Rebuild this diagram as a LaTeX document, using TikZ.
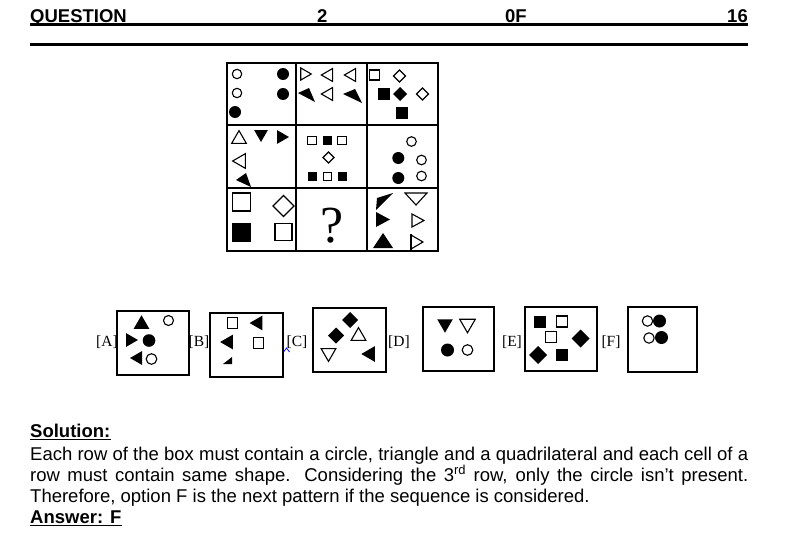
\documentclass[tikz,border=0pt]{standalone}
\usepackage{fontspec}
\setmainfont{Liberation Sans}
\newfontfamily\optfont{Liberation Serif}
\usetikzlibrary{positioning}

\tikzset{
  hollow/.style={draw,line width=1.1pt},
  filled/.style={fill=black},
  gridline/.style={line width=1.4pt},
  optbox/.style={draw,line width=1.3pt,minimum width=72pt,minimum height=64pt,inner sep=0pt},
  optlabel/.style={font=\optfont\fontsize{15.5}{17}\selectfont,inner sep=0pt},
  bodytext/.style={anchor=base west,inner sep=0pt,font=\fontsize{18.5}{21}\selectfont},
  boldtext/.style={anchor=base west,inner sep=0pt,font=\bfseries\fontsize{18.5}{21}\selectfont},
  rule/.style={line width=#1},
}

% shapes centred on their bounding box: style, x, y, (angle,) size
\newcommand{\mktri}[5]{\path[#1,shift={(#2,#3)},shift={({#4+180}:{#5/4})}]
  (#4:#5) -- ({#4+120}:#5) -- ({#4+240}:#5) -- cycle;}
\newcommand{\mkcirc}[4]{\path[#1] (#2,#3) circle (#4);}
\newcommand{\mksq}[4]{\path[#1,shift={(#2,#3)}] (-#4,-#4) rectangle (#4,#4);}
\newcommand{\mkdiam}[4]{\path[#1,shift={(#2,#3)}] (#4,0) -- (0,#4) -- (-#4,0) -- (0,-#4) -- cycle;}

\begin{document}
\begin{tikzpicture}[x=1pt,y=-1pt]
  \useasboundingbox (0,0) rectangle (803,546);
  \fill[white] (0,0) rectangle (803,546);

  % header
  \node[boldtext] (qhead) at (30,22) {QUESTION};
  \node[boldtext] (qnum) at (317,22) {2};
  \node[boldtext] (qof) at (505,22) {0F};
  \node[boldtext,anchor=base east] (qtotal) at (748,22) {16};
  \draw[rule=2.5pt] ([yshift=-2.5pt]qhead.base west) -- ([yshift=-2.5pt]qtotal.base east);
  \draw[rule=3.5pt] (30,44.5) -- (748,44.5);

  % puzzle grid
  \draw[gridline] (227,63) rectangle (438,251);
  \draw[gridline] (296,63) -- (296,251);
  \draw[gridline] (367,63) -- (367,251);
  \draw[gridline] (227,125) -- (438,125);
  \draw[gridline] (227,188) -- (438,188);

  % row 1
  \mkcirc{hollow}{237}{74}{4.7}
  \mkcirc{hollow}{237}{93}{4.7}
  \mkcirc{filled}{235}{112}{6}
  \mkcirc{filled}{283}{74}{6}
  \mkcirc{filled}{283}{94}{6}
  \mktri{hollow}{306}{74}{0}{7}
  \mktri{hollow}{327}{75}{180}{7.5}
  \mktri{hollow}{350}{75}{180}{7.5}
  \mktri{hollow}{327}{94}{180}{7.5}
  \fill (298,93) -- (309,88) -- (315,102) -- cycle;
  \fill (343,94) -- (355,89) -- (362,103) -- cycle;
  \mksq{hollow}{374.5}{75}{5}
  \mkdiam{hollow}{399.5}{76}{6}
  \mksq{filled}{383.5}{94}{6}
  \mkdiam{filled}{400}{94}{7}
  \mkdiam{hollow}{422.5}{94}{6}
  \mksq{filled}{402}{112.5}{6}

  % row 2
  \mktri{hollow}{239}{137}{-90}{8.5}
  \mktri{filled}{261}{136}{90}{8}
  \mktri{filled}{283}{137}{0}{8}
  \mktri{hollow}{239}{161}{180}{8.5}
  \fill (236,180) -- (246,173) -- (251,187) -- cycle;
  \mksq{hollow}{312}{140.7}{4.2}
  \mksq{filled}{327.5}{140.7}{4.5}
  \mksq{hollow}{342}{140.7}{4.2}
  \mkdiam{hollow}{328.5}{157.5}{5.5}
  \mksq{filled}{312}{176.5}{4.5}
  \mksq{hollow}{327.5}{176.5}{4.2}
  \mksq{filled}{342}{176.5}{4.5}
  \mkcirc{hollow}{411.5}{141.5}{4.8}
  \mkcirc{filled}{398.3}{158}{6}
  \mkcirc{hollow}{421.5}{160}{4.8}
  \mkcirc{filled}{398.3}{178}{6}
  \mkcirc{hollow}{421.5}{176}{4.8}

  % row 3
  \mksq{hollow}{241.5}{202}{9}
  \mkdiam{hollow}{283.5}{206}{10.5}
  \mksq{filled}{241.5}{232}{9.5}
  \mksq{hollow}{283.5}{232}{8.5}
  \node[inner sep=0pt,font=\optfont\fontsize{52}{52}\selectfont] (qmark) at (332,226) {?};
  \fill (393,193) -- (377,198) -- (376,210) -- cycle;
  \draw[hollow] (405,193) -- (427,193) -- (416,205) -- cycle;
  \fill (376,212) -- (390,219.5) -- (376,227) -- cycle;
  \draw[hollow] (412,214) -- (424,220.5) -- (412,227) -- cycle;
  \fill (373,248) -- (383,233) -- (393,248) -- cycle;
  \draw[hollow] (411,235) -- (423,242) -- (411,249) -- cycle;
  \draw[hollow] (411,234) -- (411,250);

  % answer options
  \node[optbox] (boxA) at (153,343) {};
  \node[optbox,minimum width=73pt] (boxB) at (246.5,345) {};
  \node[optbox,minimum width=73pt] (boxC) at (349.5,340) {};
  \node[optbox,minimum width=71pt] (boxD) at (458.5,339) {};
  \node[optbox] (boxE) at (561,339) {};
  \node[optbox,minimum width=69pt,minimum height=65pt] (boxF) at (662.5,339.5) {};
  \node[optlabel] (labA) at (107,342) {[A]};
  \node[optlabel] (labB) at (199,342) {[B]};
  \node[optlabel] (labC) at (297,342) {[C]};
  \node[optlabel] (labD) at (399,342) {[D]};
  \node[optlabel] (labE) at (512,342) {[E]};
  \node[optlabel] (labF) at (611,342) {[F]};
  \draw[blue,line width=0.8pt] (283.5,352) -- (286.5,348) -- (289.5,352);

  % A
  \mktri{filled}{141.5}{322}{-90}{9}
  \mkcirc{hollow}{168.5}{320.5}{5}
  \mktri{filled}{132}{340}{0}{8}
  \mkcirc{filled}{149}{340.5}{6.3}
  \mktri{filled}{136}{358}{180}{8}
  \mkcirc{hollow}{151.5}{359}{5.3}
  % B
  \mksq{hollow}{232.5}{323}{5.2}
  \mktri{filled}{256}{323}{180}{8.5}
  \mktri{filled}{226.5}{342}{180}{8.5}
  \mksq{hollow}{258.5}{343}{5.2}
  \fill (232,357) -- (232,364) -- (223,364) -- cycle;
  % C
  \mkdiam{filled}{350}{320}{8}
  \mkdiam{filled}{336}{335.5}{8}
  \mktri{hollow}{358.5}{334}{-90}{8.5}
  \mktri{hollow}{328.5}{355}{90}{8.5}
  \mktri{filled}{368}{354}{180}{9}
  % D
  \mktri{filled}{445}{326}{90}{9}
  \mktri{hollow}{467.5}{326}{90}{9}
  \mkcirc{filled}{447.5}{350}{6.5}
  \mkcirc{hollow}{467.5}{350}{5.3}
  % E
  \mksq{filled}{540}{321.5}{6}
  \mksq{hollow}{562}{321.5}{5.5}
  \mksq{hollow}{551}{337}{5.5}
  \mkdiam{filled}{580.5}{338.5}{9}
  \mkdiam{filled}{538}{355}{9}
  \mksq{filled}{562}{354.5}{6}
  % F
  \mkcirc{hollow}{647.5}{321}{5.2}
  \mkcirc{filled}{659.5}{321}{6.5}
  \mkcirc{hollow}{649}{338}{5.2}
  \mkcirc{filled}{661.5}{337.5}{6.5}

  % solution
  \node[boldtext] (soltitle) at (30,437) {Solution:};
  \draw[rule=1.6pt] ([yshift=-2.5pt]soltitle.base west) -- ([yshift=-2.5pt]soltitle.base east);
  \node[bodytext] (solA) at (30,460) {\makebox[718pt][s]{Each row of the box must contain a circle, triangle and a quadrilateral and each cell of a}};
  \node[bodytext] (solB) at (30,481) {\makebox[718pt][s]{row must contain same shape. Considering the 3\textsuperscript{rd} row, only the circle isn’t present.}};
  \node[bodytext] (solC) at (30,502) {Therefore, option F is the next pattern if the sequence is considered.};
  \node[boldtext] (answer) at (30,523) {Answer: F};
  \draw[rule=1.6pt] ([yshift=-2.5pt]answer.base west) -- ([yshift=-2.5pt]answer.base east);
\end{tikzpicture}
\end{document}
